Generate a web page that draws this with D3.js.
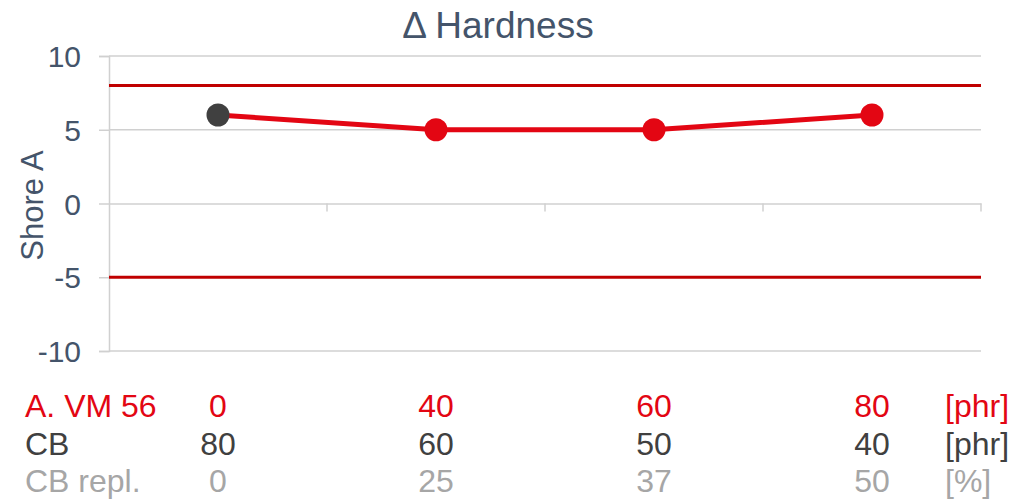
<!DOCTYPE html>
<html>
<meta charset="utf-8">
<head>
<script src="https://d3js.org/d3.v7.min.js"></script>
<style>
    body { margin: 0; background: #fff; }
    text { font-family: "Liberation Sans", Arial, sans-serif; }
</style>
</head>
<body>
<script>
// chart data
var categories = ["0", "40", "60", "80"];
var hardness = [6, 5, 5, 6];
var limits = [8, -5];
var yTicks = [-10, -5, 0, 5, 10];

// table rows under the chart
var rowLabels = ["A. VM 56", "CB", "CB repl."];
var rowUnits = ["[phr]", "[phr]", "[%]"];
var vmValues = ["0", "40", "60", "80"];
var cbValues = ["80", "60", "50", "40"];
var replValues = ["0", "25", "37", "50"];
var rowColors = ["#e30613", "#404040", "#a6a6a6"];

var width = 1013, height = 501;
var margin = {top: 56, right: 32, bottom: 150, left: 109};
var w = width - margin.left - margin.right,
    h = height - margin.top - margin.bottom;

var svg = d3.select("body").append("svg")
    .attr("width", width)
    .attr("height", height);

var g = svg.append("g")
    .attr("transform", "translate(" + margin.left + "," + margin.top + ")");

var x = d3.scaleBand().domain(categories).range([0, w]);
var y = d3.scaleLinear().domain([-10, 10]).range([h, 0]);

// horizontal gridlines
g.selectAll(".grid")
    .data(yTicks.filter(function(d) { return d !== 0; }))
    .enter().append("line")
    .attr("x1", 0).attr("x2", w)
    .attr("y1", function(d) { return y(d); })
    .attr("y2", function(d) { return y(d); })
    .attr("stroke", "#d0d0d0")
    .attr("stroke-width", 1.5);

// left axis
var yAxis = g.append("g")
    .call(d3.axisLeft(y).tickValues(yTicks).tickSize(10).tickPadding(18)
        .tickFormat(function(d) { return String(d); }));
yAxis.select(".domain").attr("stroke", "#d0d0d0").attr("stroke-width", 1.5);
yAxis.selectAll(".tick line").attr("stroke", "#d0d0d0").attr("stroke-width", 1.5);
yAxis.selectAll(".tick text")
    .attr("fill", "#44546a")
    .attr("dy", "0.35em")
    .style("font-size", "30px")
    .style("font-family", "'Liberation Sans', Arial, sans-serif");

// category axis at zero
var xAxis = g.append("g")
    .attr("transform", "translate(0," + y(0) + ")")
    .call(d3.axisBottom(x).tickSize(0).tickFormat(""));
xAxis.select(".domain").attr("stroke", "#d0d0d0").attr("stroke-width", 1.5);
g.selectAll(".catTick")
    .data(categories)
    .enter().append("line")
    .attr("x1", function(d) { return x(d) + x.bandwidth(); })
    .attr("x2", function(d) { return x(d) + x.bandwidth(); })
    .attr("y1", y(0))
    .attr("y2", y(0) + 8)
    .attr("stroke", "#d0d0d0")
    .attr("stroke-width", 1.5);

// limit lines
g.selectAll(".limit")
    .data(limits)
    .enter().append("line")
    .attr("x1", 0).attr("x2", w)
    .attr("y1", function(d) { return y(d); })
    .attr("y2", function(d) { return y(d); })
    .attr("stroke", "#c00000")
    .attr("stroke-width", 3);

// data line
var line = d3.line()
    .x(function(d, i) { return x(categories[i]) + x.bandwidth() / 2; })
    .y(function(d) { return y(d); });

g.append("path")
    .datum(hardness)
    .attr("fill", "none")
    .attr("stroke", "#e30613")
    .attr("stroke-width", 5)
    .attr("d", line);

g.selectAll(".dot")
    .data(hardness)
    .enter().append("circle")
    .attr("cx", function(d, i) { return x(categories[i]) + x.bandwidth() / 2; })
    .attr("cy", function(d) { return y(d); })
    .attr("r", 11.5)
    .attr("fill", function(d, i) { return i === 0 ? "#404040" : "#e30613"; });

// title
svg.append("text")
    .attr("x", 498)
    .attr("y", 38)
    .attr("text-anchor", "middle")
    .attr("fill", "#44546a")
    .style("font-size", "37px")
    .text("\u0394 Hardness");

// y axis label
svg.append("text")
    .attr("transform", "translate(43," + (margin.top + y(0) + 2) + ") rotate(-90)")
    .attr("text-anchor", "middle")
    .attr("fill", "#44546a")
    .style("font-size", "31px")
    .text("Shore A");

// table
var rows = [vmValues, cbValues, replValues];
var rowY = [417, 455, 492];
rows.forEach(function(vals, r) {
    svg.append("text")
        .attr("x", 25)
        .attr("y", rowY[r])
        .attr("fill", rowColors[r])
        .style("font-size", "32px")
        .text(rowLabels[r]);
    svg.selectAll(".cell" + r)
        .data(vals)
        .enter().append("text")
        .attr("x", function(d, i) { return margin.left + x(categories[i]) + x.bandwidth() / 2; })
        .attr("y", rowY[r])
        .attr("text-anchor", "middle")
        .attr("fill", rowColors[r])
        .style("font-size", "32px")
        .text(function(d) { return d; });
    svg.append("text")
        .attr("x", 945)
        .attr("y", rowY[r])
        .attr("fill", rowColors[r])
        .style("font-size", "32px")
        .text(rowUnits[r]);
});
</script>
</body>
</html>
